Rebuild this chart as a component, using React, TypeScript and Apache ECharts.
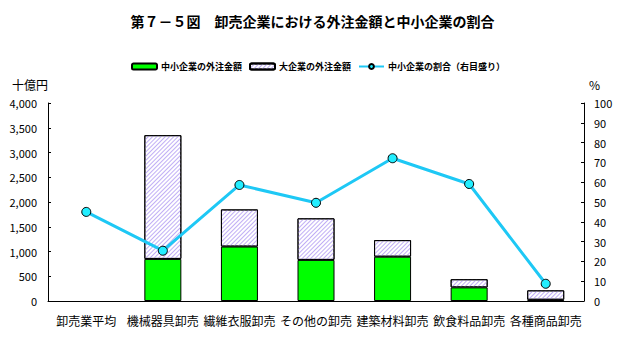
import React, { useEffect, useRef } from "react";
import * as echarts from "echarts";

const categories = ["卸売業平均", "機械器具卸売", "繊維衣服卸売", "その他の卸売", "建築材料卸売", "飲食料品卸売", "各種商品卸売"];
const smeAmount = [null, 850, 1100, 830, 895, 275, 25];
const largeAmount = [null, 2500, 750, 840, 335, 165, 190];
const smeShare = [45, 25.4, 58.6, 49.6, 72.1, 59.1, 8.7];
const leftTicks = { min: 0, max: 4000, interval: 500 };
const rightTicks = { min: 0, max: 100, interval: 10 };

const FONT = "'Noto Sans CJK JP', sans-serif";

export default function App() {
  const ref = useRef<HTMLDivElement>(null);
  useEffect(() => {
    const chart = echarts.init(ref.current!, null, { renderer: "svg" });
    chart.setOption({
      animation: false,
      backgroundColor: "#ffffff",
      textStyle: { fontFamily: FONT },
      title: {
        text: "第７－５図　卸売企業における外注金額と中小企業の割合",
        left: "center",
        top: 9,
        textStyle: { fontSize: 14, fontWeight: "bold", color: "#000", fontFamily: FONT },
      },
      legend: {
        top: 57,
        left: 126,
        itemWidth: 25,
        itemHeight: 6,
        itemGap: 7,
        textStyle: { fontSize: 9, fontWeight: "bold", color: "#000", fontFamily: FONT, padding: [0, 0, 0, -1] },
        data: [
          { name: "中小企業の外注金額" },
          { name: "大企業の外注金額" },
          { name: "中小企業の割合（右目盛り）" },
        ],
      },
      grid: { left: 48, right: 41, top: 103, bottom: 36, containLabel: false },
      xAxis: {
        type: "category",
        data: categories,
        axisLine: { lineStyle: { color: "#000", width: 1 } },
        axisTick: { show: false },
        axisLabel: { color: "#000", fontSize: 12, margin: 13, interval: 0, fontFamily: FONT },
      },
      yAxis: [
        {
          type: "value",
          ...leftTicks,
          axisLine: { show: true, lineStyle: { color: "#000" } },
          axisTick: { show: true, inside: true, length: 3, lineStyle: { color: "#000" } },
          splitLine: { show: false },
          axisLabel: {
            color: "#000",
            fontSize: 11,
            margin: 11,
            formatter: (v: number) => v.toLocaleString("en-US"),
          },
        },
        {
          type: "value",
          ...rightTicks,
          position: "right",
          axisLine: { show: true, lineStyle: { color: "#000" } },
          axisTick: { show: true, inside: true, length: 3, lineStyle: { color: "#000" } },
          splitLine: { show: false },
          axisLabel: { color: "#000", fontSize: 11, margin: 10 },
        },
      ],
      graphic: [
        { type: "text", left: 12, top: 78, style: { text: "十億円", fontSize: 12, fill: "#000", fontFamily: FONT } },
        { type: "text", left: 589, top: 78, style: { text: "%", fontSize: 12, fill: "#000", fontFamily: FONT } },
      ],
      series: [
        {
          name: "中小企業の外注金額",
          type: "bar",
          stack: "amt",
          barWidth: 37,
          data: smeAmount,
          itemStyle: { color: "#00ff00", borderColor: "#000", borderWidth: 1 },
        },
        {
          name: "大企業の外注金額",
          type: "bar",
          stack: "amt",
          barWidth: 37,
          data: largeAmount,
          itemStyle: {
            color: "#ffffff",
            borderColor: "#000",
            borderWidth: 1,
            decal: {
              symbol: "rect",
              symbolSize: 1,
              color: "#c0aef5",
              dashArrayX: [1, 0],
              dashArrayY: [1, 2],
              rotation: -Math.PI / 4,
            },
          },
        },
        {
          name: "中小企業の割合（右目盛り）",
          type: "line",
          yAxisIndex: 1,
          data: smeShare,
          symbol: "circle",
          symbolSize: 9,
          lineStyle: { color: "#1ec8f5", width: 3 },
          itemStyle: { color: "#22eeff", borderColor: "#000", borderWidth: 1 },
        },
      ],
    });
    return () => chart.dispose();
  }, []);
  return <div ref={ref} style={{ width: 625, height: 337, position: "absolute", left: 0, top: 0 }} />;
}
